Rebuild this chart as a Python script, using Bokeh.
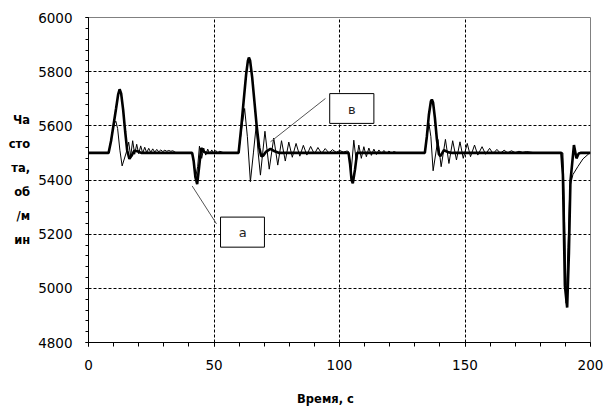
from bokeh.plotting import figure
from bokeh.models import (Range1d, SingleIntervalTicker, FixedTicker, Label,
                          BoxAnnotation, Arrow)
from bokeh.embed import file_html
from bokeh.resources import INLINE

# ---- data (time in s, frequency in rpm) ----
time_thick = [0, 8.0, 9.0, 10.0, 11.0, 11.8, 12.4, 13.0, 13.8, 14.6, 15.4, 16.3, 17.2, 18.2, 19.5, 21,
              41.3, 41.9, 42.6, 43.3, 44.1, 44.9, 45.8, 47,
              59.8, 60.8, 61.8, 62.8, 63.5, 63.9, 64.4, 65.2, 66.0, 67.0, 68.0, 68.8, 69.6,
              70.8, 72.5, 74.2, 76,
              103.6, 104.2, 104.8, 105.3, 106.2, 107.0,
              134.0, 134.8, 135.6, 136.4, 136.8, 137.3, 138.0, 138.8, 139.6, 140.2, 141.6, 143.5, 145,
              188.4, 189.0, 189.8, 190.7, 191.4, 192.0, 193.4, 194.4, 195.3, 196, 200]
freq_thick = [5500, 5500, 5545, 5605, 5665, 5715, 5735, 5720, 5660, 5580, 5510, 5478, 5490, 5508, 5506, 5500,
              5500, 5470, 5410, 5385, 5450, 5518, 5505, 5500,
              5500, 5590, 5690, 5790, 5840, 5852, 5840, 5780, 5700, 5600, 5520, 5488, 5490,
              5505, 5515, 5506, 5500,
              5500, 5460, 5400, 5388, 5440, 5500,
              5500, 5560, 5640, 5690, 5697, 5685, 5630, 5550, 5495, 5488, 5510, 5502, 5500,
              5500, 5420, 5010, 4929, 5130, 5394, 5529, 5480, 5498, 5500, 5500]

time_thin = [0, 8.0, 9.2, 10.3, 10.9, 11.6, 12.5, 13.4, 15.0, 16.0, 16.8, 17.6, 18.4,
             19.2, 20.0, 20.8, 21.6, 22.4, 23.2, 24.0, 24.8, 25.6, 26.4, 27.2, 28.0,
             28.8, 29.6, 30.4, 31.2, 32.0, 32.8, 33.6, 35.0,
             41.3, 42.0, 42.7, 43.5, 44.2, 45.1, 45.9, 46.7, 47.5, 48.3, 49.1, 49.9,
             50.7, 51.5, 52.3, 54.0,
             59.8, 61.0, 62.2, 63.3, 64.5, 65.7, 66.8, 67.6, 68.5, 69.4, 70.3, 72.0,
             73.8, 75.4, 76.9, 78.4, 79.8, 81.2, 82.7, 84.2, 85.6, 87.0, 88.5, 90.0,
             91.4, 92.9, 94.3, 95.8, 97.2, 98.7, 100.1, 101.5, 103.0, 103.6,
             104.0, 104.7, 105.7, 106.7, 107.7, 108.7, 109.7, 110.7, 111.7, 112.7,
             113.7, 114.7, 115.7, 116.7, 117.7, 118.7, 119.7, 120.7, 121.7, 122.7, 124.0,
             134.0, 135.0, 135.6, 136.4, 137.3, 139.2, 140.5, 142.2, 143.6, 145.1,
             146.6, 148.0, 149.3, 150.9, 152.2, 153.8, 155.1, 156.8, 158.2, 159.8,
             161.2, 162.7, 164.1, 165.6, 167.0, 168.5, 170.0, 171.5, 173.0, 174.5,
             176.0, 178.0,
             188.4, 189.0, 189.6, 190.3, 191.0, 191.8, 193.0, 195.0, 197.0, 199.7, 200]
freq_thin = [5500, 5500, 5560, 5610, 5617, 5590, 5510, 5452, 5500, 5540, 5488, 5545, 5495,
             5532, 5497, 5526, 5499, 5521, 5501, 5517, 5502, 5515, 5503, 5513, 5504,
             5511, 5505, 5510, 5506, 5509, 5506, 5508, 5500,
             5500, 5460, 5410, 5450, 5525, 5480, 5518, 5492, 5514, 5496, 5511, 5499,
             5509, 5501, 5506, 5500,
             5500, 5590, 5664, 5560, 5394, 5500, 5600, 5500, 5418, 5500, 5580, 5440,
             5555, 5455, 5545, 5470, 5540, 5484, 5535, 5488, 5528, 5492, 5524, 5496,
             5520, 5498, 5516, 5500, 5512, 5502, 5509, 5503, 5507, 5505,
             5480, 5437, 5547, 5467, 5529, 5480, 5523, 5486, 5518, 5491,
             5514, 5494, 5511, 5497, 5509, 5498, 5507, 5499, 5505, 5501, 5500,
             5500, 5570, 5610, 5560, 5434, 5550, 5449, 5550, 5461, 5545,
             5474, 5541, 5480, 5535, 5486, 5529, 5492, 5523, 5495, 5517,
             5497, 5513, 5499, 5510, 5500, 5508, 5501, 5506, 5502, 5505,
             5503, 5500,
             5500, 5500, 5300, 4945, 5150, 5375, 5420, 5450, 5478, 5500, 5500]

y_title_lines = ["Ча", "сто", "та,", "об", "/м", "ин"]
x_title = "Время, с"
label_a = "а"
label_b = "в"

p = figure(width=605, height=408, output_backend="svg", toolbar_location=None,
           x_range=Range1d(0, 200), y_range=Range1d(4800, 6000),
           min_border_left=88, min_border_right=15, min_border_top=17,
           min_border_bottom=65)
p.background_fill_color = "white"
p.border_fill_color = "white"
p.outline_line_color = "#808080"
p.outline_line_width = 1

# axes
p.xaxis.ticker = SingleIntervalTicker(interval=50, num_minor_ticks=5)
p.yaxis.ticker = SingleIntervalTicker(interval=200, num_minor_ticks=5)
for ax in (p.xaxis[0], p.yaxis[0]):
    ax.axis_line_color = "black"
    ax.axis_line_width = 1
    ax.major_tick_in = 0
    ax.minor_tick_in = 0
    ax.major_tick_line_color = "black"
    ax.minor_tick_line_color = "black"
    ax.major_label_text_font = "DejaVu Sans"
    ax.major_label_text_font_size = "13.5px"
    ax.major_label_text_color = "black"
    ax.axis_label_text_font = "DejaVu Sans"
    ax.axis_label_text_font_style = "bold"
    ax.axis_label_text_font_size = "11.5px"
    ax.axis_label_text_color = "black"
p.xaxis.major_tick_out = 4
p.xaxis.minor_tick_out = 4
p.xaxis.major_label_standoff = 13
p.yaxis.major_tick_out = 3
p.yaxis.minor_tick_out = 3
p.yaxis.major_label_standoff = 13

# x title sits slightly left of the frame centre in the reference:
# trailing no-break spaces shift the centred label to the left
p.xaxis.axis_label = x_title + "\u00a0" * 7
p.xaxis.axis_label_standoff = 19
p.yaxis.axis_label = "\n".join(y_title_lines)
p.yaxis.axis_label_orientation = "horizontal"
p.yaxis.axis_label_standoff = 5
p.yaxis.axis_label_text_line_height = 1.72
p.yaxis.axis_label_text_align = "center"

# grid
p.xgrid.ticker = FixedTicker(ticks=[50, 100, 150])
p.ygrid.ticker = FixedTicker(ticks=[5000, 5200, 5400, 5600, 5800])
for g in (p.xgrid[0], p.ygrid[0]):
    g.grid_line_color = "black"
    g.grid_line_dash = "3 2"
    g.grid_line_width = 1

# curves
p.line(time_thin, freq_thin, line_color="black", line_width=1)
p.line(time_thick, freq_thick, line_color="black", line_width=2.6)

# leader lines
p.add_layout(Arrow(end=None, x_start=41.3, y_start=5378, x_end=51.0, y_end=5238,
                   line_color="#555555", line_width=1))
p.add_layout(Arrow(end=None, x_start=94.4, y_start=5701, x_end=72.5, y_end=5541,
                   line_color="#555555", line_width=1))

# callout boxes
p.add_layout(BoxAnnotation(left=52.6, right=70.1, bottom=5152, top=5263,
                           fill_color="white", fill_alpha=1,
                           line_color="black", line_width=1, line_alpha=1))
p.add_layout(BoxAnnotation(left=96.1, right=113.7, bottom=5609, top=5719,
                           fill_color="white", fill_alpha=1,
                           line_color="black", line_width=1, line_alpha=1))
p.add_layout(Label(x=61.4, y=5206, text=label_a, text_align="center",
                   text_baseline="middle", text_font="DejaVu Sans",
                   text_font_size="13px", text_color="#222222"))
p.add_layout(Label(x=104.9, y=5662, text=label_b, text_align="center",
                   text_baseline="middle", text_font="DejaVu Sans",
                   text_font_size="13px", text_color="#222222"))

open("out.html", "w").write(file_html(p, INLINE))
